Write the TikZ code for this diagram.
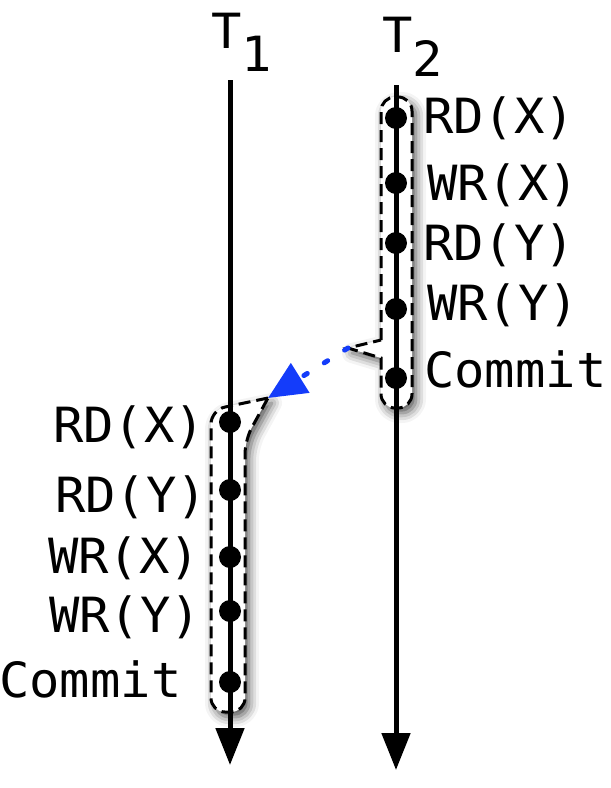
\documentclass[tikz,border=0pt]{standalone}
\usepackage{fontspec}
\newfontfamily\opfont[FakeStretch=1.04]{DejaVu Sans Mono}
\usetikzlibrary{arrows.meta,shadows.blur}
\definecolor{depblue}{RGB}{20,60,250}

\begin{document}
\begin{tikzpicture}[x=1pt, y=-1pt,
  op/.style   = {anchor=base west, inner sep=0pt,
                 font=\opfont\fontsize{48.5}{52}\selectfont},
  txn/.style  = {op},
  tl/.style   = {line width=5pt, -{Triangle[length=37pt,width=28pt,color=black,fill=black]}},
  ev/.style   = {circle, fill=black, inner sep=0pt, minimum size=22pt},
  hbox/.style = {draw=black, fill=white, line width=3pt,
                 dash pattern=on 12pt off 6pt,
                 blur shadow={shadow xshift=4pt, shadow yshift=-5pt,
                              shadow blur radius=10pt, shadow opacity=70}},
  dep/.style  = {draw=depblue, line width=5pt, line cap=round,
                 dash pattern=on 4pt off 20pt,
                 -{Triangle[length=38pt,width=34pt]}}]
\useasboundingbox (0,0) rectangle (611,788);

% --- happens-before regions -------------------------------------------
\draw[hbox] (381,340) [rounded corners=14pt] -- (381,97) -- (412,97)
      -- (412,408) -- (381,408) [sharp corners] -- (381,358) -- (348,348) -- cycle;
\draw[hbox] (268,398) [rounded corners=14pt] -- (211,410) -- (211,712)
      -- (245,712) -- (245,440) [sharp corners] -- cycle;
\coordinate (n2) at (348,348);
\coordinate (n1) at (268,398);

% --- timelines --------------------------------------------------------
\coordinate (t1s) at (230,80);  \coordinate (t1e) at (230,765);
\coordinate (t2s) at (396,85);  \coordinate (t2e) at (396,770);
\draw[tl] (t1s) -- (t1e);
\draw[tl] (t2s) -- (t2e);
\node[txn] (T1) at (211,48) {T\raisebox{-23pt}{1}};
\node[txn] (T2) at (382,52) {T\raisebox{-24pt}{2}};

% --- events of T2 -----------------------------------------------------
\node[ev] (b1) at (396,118) {};
\node[ev] (b2) at (396,183) {};
\node[ev] (b3) at (396,243) {};
\node[ev] (b4) at (396,309) {};
\node[ev] (b5) at (396,378) {};
\node[op] (lb1) at (423,133) {RD(X)};
\node[op] (lb2) at (427,200) {WR(X)};
\node[op] (lb3) at (423,260) {RD(Y)};
\node[op] (lb4) at (427,320) {WR(Y)};
\node[op] (lb5) at (424,387) {Commit};

% --- events of T1 -----------------------------------------------------
\node[ev] (a1) at (230,422) {};
\node[ev] (a2) at (230,490) {};
\node[ev] (a3) at (230,557) {};
\node[ev] (a4) at (230,611) {};
\node[ev] (a5) at (230,682) {};
\node[op] (la1) at (53,442)  {RD(X)};
\node[op] (la2) at (55,512)  {RD(Y)};
\node[op] (la3) at (48,573)  {WR(X)};
\node[op] (la4) at (49,632)  {WR(Y)};
\node[op] (la5) at (-1,697)  {Commit};

% --- dependency -------------------------------------------------------
\draw[dep] (n2) -- (n1);
\end{tikzpicture}
\end{document}
